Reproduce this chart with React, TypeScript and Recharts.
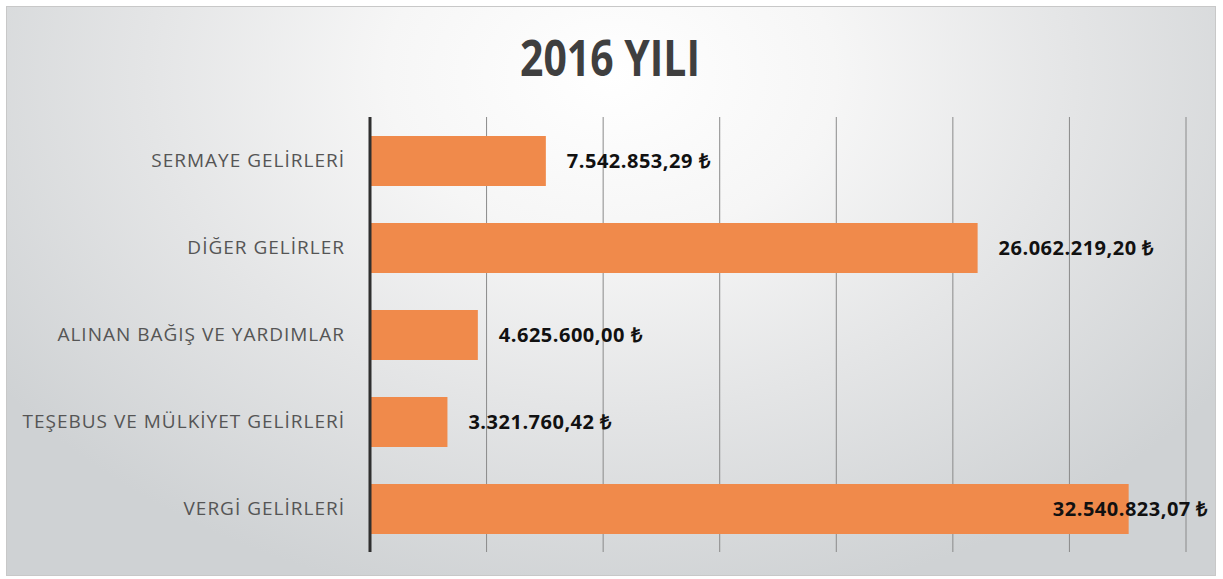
import React from 'react';
import { BarChart, Bar, XAxis, YAxis, CartesianGrid, LabelList } from 'recharts';

const categories = [
  'SERMAYE GELİRLERİ',
  'DİĞER GELİRLER',
  'ALINAN BAĞIŞ VE YARDIMLAR',
  'TEŞEBUS VE MÜLKİYET GELİRLERİ',
  'VERGİ GELİRLERİ',
];
const values = [7542853.29, 26062219.2, 4625600.0, 3321760.42, 32540823.07];
const xTicks = [0, 5000000, 10000000, 15000000, 20000000, 25000000, 30000000, 35000000];

const data = categories.map((name, i) => ({ name, value: values[i] }));

const fmt = (v: number) => {
  const [intPart, dec] = v.toFixed(2).split('.');
  const withDots = intPart.replace(/\B(?=(\d{3})+(?!\d))/g, '.');
  return `${withDots},${dec} ₺`;
};

const W = 1223;
const H = 579;
const RIGHT_LIMIT = 1208;

const ValueLabel = (props: any) => {
  const { x, y, width, height, value } = props;
  const text = fmt(Number(value));
  const start = Number(x) + Number(width) + 21;
  const est = text.length * 10.5;
  const overflow = start + est > RIGHT_LIMIT;
  return (
    <text
      x={overflow ? RIGHT_LIMIT : start}
      y={Number(y) + Number(height) / 2}
      dy="0.35em"
      textAnchor={overflow ? 'end' : 'start'}
      fontFamily="'Open Sans', sans-serif"
      fontWeight={700}
      fontSize={20}
      letterSpacing={0.5}
      fill="#111111"
    >
      {text}
    </text>
  );
};

export default function App() {
  return (
    <div style={{ position: 'absolute', left: 0, top: 0, width: W, height: H, background: '#ffffff' }}>
      <div
        style={{
          position: 'absolute',
          left: 6,
          top: 6,
          width: 1210,
          height: 570,
          boxSizing: 'border-box',
          border: '1px solid #c8c8c8',
          background:
            'radial-gradient(ellipse 62% 95% at 50% 12%, #ffffff 0%, #f6f6f6 30%, #e4e5e6 62%, #cfd2d4 100%)',
        }}
      />
      <svg style={{ position: 'absolute', left: 0, top: 0 }} width={W} height={110}>
        <text
          x={610}
          y={76}
          textAnchor="middle"
          fontFamily="'Open Sans', sans-serif"
          fontWeight={700}
          fontSize={50}
          fill="#3f3f3f"
          textLength={180}
          lengthAdjust="spacingAndGlyphs"
        >
          2016 YILI
        </text>
      </svg>
      <div style={{ position: 'absolute', left: 0, top: 0 }}>
        <BarChart
          width={W}
          height={H}
          data={data}
          layout="vertical"
          margin={{ top: 117, right: 37, bottom: 27, left: 0 }}
        >
          <CartesianGrid horizontal={false} vertical={true} stroke="#8a8a8a" strokeWidth={1} />
          <XAxis type="number" domain={[0, 35000000]} ticks={xTicks} hide />
          <YAxis
            type="category"
            dataKey="name"
            width={370}
            tickSize={0}
            tickMargin={25}
            axisLine={{ stroke: '#2f2f2f', strokeWidth: 3 }}
            tickLine={false}
            tick={{ fill: '#555555', fontSize: 19, fontFamily: "'Open Sans', sans-serif", letterSpacing: 1.0 }}
          />
          <Bar dataKey="value" fill="#F08A4B" barSize={50} isAnimationActive={false}>
            <LabelList dataKey="value" content={<ValueLabel />} />
          </Bar>
        </BarChart>
      </div>
    </div>
  );
}
